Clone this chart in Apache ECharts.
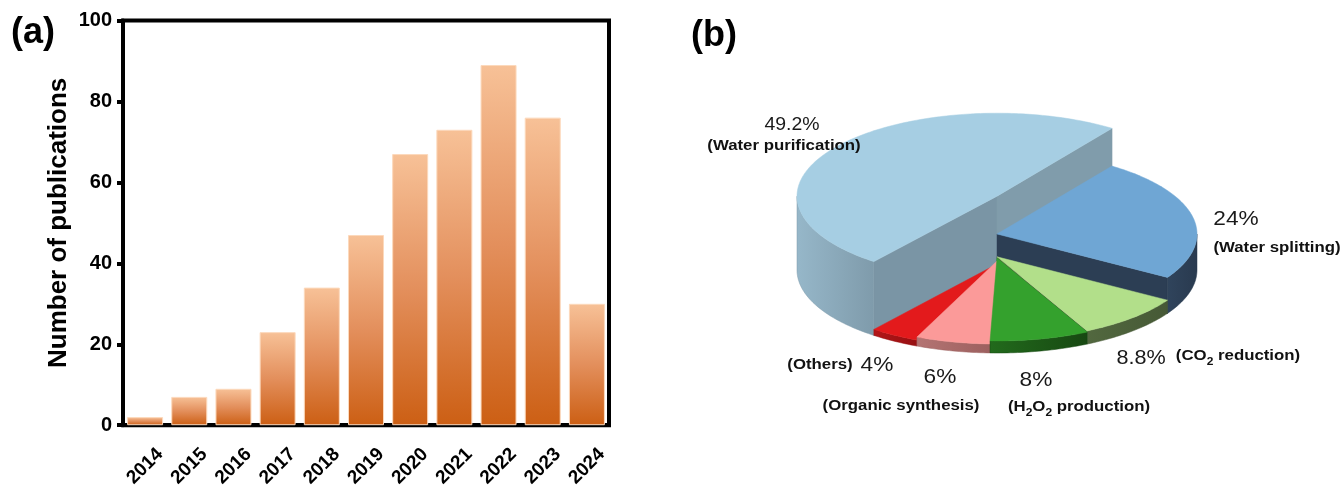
<!DOCTYPE html>
<html>
<head>
<meta charset="utf-8">
<title>Publications and application fields</title>
<script src="https://cdn.jsdelivr.net/npm/echarts@6/dist/echarts.min.js"></script>
<style>
  html, body { margin: 0; padding: 0; background: #fff; }
  #main { width: 1342px; height: 490px; }
</style>
</head>
<body>
<div id="main"></div>
<script>
// ---- (a) yearly publication counts ----
const years = ['2014', '2015', '2016', '2017', '2018', '2019', '2020', '2021', '2022', '2023', '2024'];
const publications = [2, 7, 9, 23, 34, 47, 67, 73, 89, 76, 30];

// ---- (b) share of application fields (%) ----
const fields = ['Water purification', 'Water splitting', 'CO2 reduction', 'H2O2 production', 'Organic synthesis', 'Others'];
const shares = [49.2, 24, 8.8, 8, 6, 4];
const shareLabels = ['49.2%', '24%', '8.8%', '8%', '6%', '4%'];

const FONT = '"Liberation Sans", Arial, sans-serif';

// Pseudo-3D pie: elliptical base, each slice extruded by a height proportional to its share.
const PIE = { cx: 997, cy: 270, rx: 200, ry: 83, k: 1.5, start: 128 };
const SLICE_STYLE = [
  { top: '#A6CEE3', face: ['#7A95A5', '#809CAB'], wall: ['#96B7C9', '#7F9BAB'] },
  { top: '#6FA6D4', face: ['#2C3E54', '#2C3E54'], wall: ['#30445C', '#293A4F'] },
  { top: '#B2DF8A', face: ['#4A5E39', '#4A5E39'], wall: ['#52683F', '#465936'] },
  { top: '#34A12D', face: ['#1C5516', '#1C5516'], wall: ['#226A1C', '#174812'] },
  { top: '#FB9A99', face: ['#A86A68', '#A86A68'], wall: ['#B47473', '#9C605F'] },
  { top: '#E31A1C', face: ['#A31215', '#A31215'], wall: ['#B31618', '#961012'] }
];

// Label placement around the pie (centre points)
const LABEL_LAYOUT = [
  { pct: [792, 125], pctSize: 18, name: [784, 148] },
  { pct: [1236, 219], pctSize: 21, name: [1277, 250] },
  { pct: [1141, 358], pctSize: 20, name: [1238, 358] },
  { pct: [1036, 380], pctSize: 21, name: [1079, 409] },
  { pct: [940, 377], pctSize: 21, name: [901, 408] },
  { pct: [877, 365], pctSize: 21, name: [820, 367] }
];

const total = shares.reduce((a, b) => a + b, 0);
const cumBefore = shares.map((_, i) => shares.slice(0, i).reduce((a, b) => a + b, 0));
const DEG = Math.PI / 180;

// back-to-front drawing order from each slice's mid angle
const midSin = shares.map((v, i) => Math.sin((PIE.start + (cumBefore[i] + v / 2) * 360 / total) * DEG));
const drawRank = [];
midSin.map((s, i) => [s, i]).sort((a, b) => a[0] - b[0]).forEach((p, r) => { drawRank[p[1]] = r; });

const sliceData = shares.map((v, i) => ({ name: fields[i], value: [v, cumBefore[i], i] }));

function arcPoints(t0, t1, z) {
  const n = Math.max(2, Math.ceil(Math.abs(t1 - t0) / DEG));
  const pts = [];
  for (let j = 0; j <= n; j++) {
    const t = t0 + (t1 - t0) * j / n;
    pts.push([PIE.cx + PIE.rx * Math.cos(t), PIE.cy + PIE.ry * Math.sin(t) - z]);
  }
  return pts;
}

function renderSlice(params, api) {
  const v = api.value(0), before = api.value(1), idx = api.value(2);
  const a0 = (PIE.start + before * 360 / total) * DEG;
  const a1 = (PIE.start + (before + v) * 360 / total) * DEG;
  const h = v * PIE.k;
  const st = SLICE_STYLE[idx];
  const base = drawRank[idx] * 10;
  const children = [];

  // radial side faces, only when facing the viewer
  const radial = (a, color) => ({
    type: 'polygon', z2: base + 1,
    shape: { points: [[PIE.cx, PIE.cy - h], [PIE.cx + PIE.rx * Math.cos(a), PIE.cy + PIE.ry * Math.sin(a) - h],
                      [PIE.cx + PIE.rx * Math.cos(a), PIE.cy + PIE.ry * Math.sin(a)], [PIE.cx, PIE.cy]] },
    style: { fill: color, stroke: color, lineWidth: 0.5 }
  });
  if (Math.cos(a0) < 0) children.push(radial(a0, st.face[0]));
  if (Math.cos(a1) > 0) children.push(radial(a1, st.face[1]));

  // front part of the outer wall
  for (let n = -1; n <= 2; n++) {
    const lo = Math.max(a0, 2 * Math.PI * n), hi = Math.min(a1, 2 * Math.PI * n + Math.PI);
    if (hi > lo) {
      children.push({
        type: 'polygon', z2: base + 2,
        shape: { points: arcPoints(lo, hi, h).concat(arcPoints(hi, lo, 0)) },
        style: {
          fill: { type: 'linear', x: 0, y: 0, x2: 1, y2: 0,
                  colorStops: [{ offset: 0, color: st.wall[0] }, { offset: 1, color: st.wall[1] }] },
          stroke: st.wall[1], lineWidth: 0.5
        }
      });
    }
  }

  // top face
  children.push({
    type: 'polygon', z2: base + 3,
    shape: { points: [[PIE.cx, PIE.cy - h]].concat(arcPoints(a0, a1, h)) },
    style: { fill: st.top, stroke: st.top, lineWidth: 0.5 }
  });
  return { type: 'group', children: children };
}

// "(CO2 reduction)" -> rich text with subscript digits
function richName(name) {
  return '{b|(' + name.replace(/([A-Z])(2)/g, '$1}{s|$2}{b|') + ')}';
}
const RICH = {
  b: { font: 'bold 14px ' + FONT, fill: '#111', verticalAlign: 'top', lineHeight: 17 },
  s: { font: 'bold 10px ' + FONT, fill: '#111', verticalAlign: 'top', lineHeight: 12, padding: [8, 0, 0, 0] }
};

const graphics = [
  { type: 'text', z: 100, x: 33, y: 33, style: { text: '(a)', font: 'bold 36px ' + FONT, fill: '#000', align: 'center', verticalAlign: 'middle' } },
  { type: 'text', z: 100, x: 714, y: 36, style: { text: '(b)', font: 'bold 36px ' + FONT, fill: '#000', align: 'center', verticalAlign: 'middle' } }
];
fields.forEach((f, i) => {
  const L = LABEL_LAYOUT[i];
  graphics.push({
    type: 'text', z: 100, x: L.pct[0], y: L.pct[1], scaleX: 1.08,
    style: { text: shareLabels[i], font: L.pctSize + 'px ' + FONT, fill: '#1a1a1a', align: 'center', verticalAlign: 'middle' }
  });
  graphics.push({
    type: 'text', z: 100, x: L.name[0], y: L.name[1], scaleX: 1.2,
    style: { text: richName(f), rich: RICH, align: 'center', verticalAlign: 'middle' }
  });
});

const chart = echarts.init(document.getElementById('main'), null, { renderer: 'canvas' });
chart.setOption({
  animation: false,
  backgroundColor: '#fff',
  textStyle: { fontFamily: FONT },
  grid: { left: 123, top: 20.5, width: 486, height: 405.5, show: true, borderColor: '#000', borderWidth: 4, backgroundColor: 'transparent' },
  xAxis: {
    type: 'category', data: years,
    axisLine: { lineStyle: { color: '#000', width: 4 } },
    axisTick: { alignWithLabel: true, length: 6, lineStyle: { color: '#000', width: 4 } },
    axisLabel: { rotate: 45, align: 'center', verticalAlign: 'middle', margin: 41, color: '#000', fontWeight: 'bold', fontSize: 19, fontFamily: FONT }
  },
  yAxis: {
    type: 'value', min: 0, max: 100, interval: 20,
    name: 'Number of publications', nameLocation: 'middle', nameGap: 51,
    nameTextStyle: { color: '#000', fontWeight: 'bold', fontSize: 26, fontFamily: FONT },
    axisLine: { show: true, lineStyle: { color: '#000', width: 4 } },
    axisTick: { show: true, length: 6, lineStyle: { color: '#000', width: 4 } },
    minorTick: { show: true, splitNumber: 2, length: 2, lineStyle: { color: '#000', width: 3 } },
    splitLine: { show: false },
    axisLabel: { margin: 11, color: '#000', fontWeight: 'bold', fontSize: 20, fontFamily: FONT }
  },
  series: [
    {
      type: 'bar', data: publications, barWidth: 36,
      itemStyle: {
        borderColor: '#FCD9BC', borderWidth: 1,
        color: { type: 'linear', x: 0, y: 0, x2: 0, y2: 1,
                 colorStops: [{ offset: 0, color: '#F7C197' }, { offset: 0.5, color: '#E38F5C' }, { offset: 1, color: '#CC5F14' }] }
      }
    },
    { type: 'custom', coordinateSystem: 'none', renderItem: renderSlice, data: sliceData, silent: true }
  ],
  graphic: graphics
});
</script>
</body>
</html>
